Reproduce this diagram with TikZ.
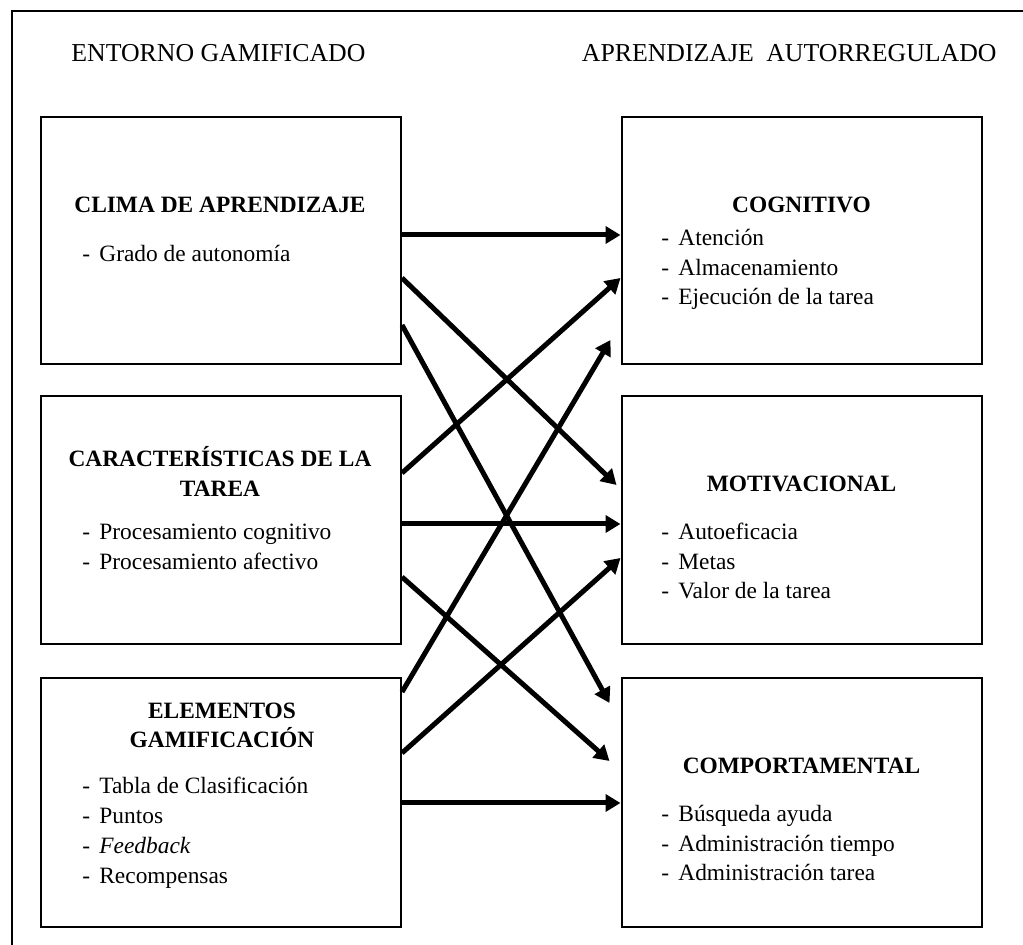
\documentclass[tikz,border=0pt]{standalone}
\usepackage{fontspec}
\setmainfont{Liberation Serif}
\usetikzlibrary{arrows.meta,calc}

\tikzset{
  box/.style={draw, line width=1pt, minimum width=180pt, inner sep=0pt},
  link/.style={line width=2.5pt, -{Triangle[length=7.5pt,width=8.5pt]}},
  head/.style={font=\fontsize{12.9}{15}\selectfont, inner sep=0pt},
  title/.style={font=\fontsize{11.7}{14.75}\selectfont\bfseries, anchor=base, inner sep=0pt},
  item/.style={font=\fontsize{11.7}{14.75}\selectfont, anchor=base west, inner sep=0pt}
}

\newcommand{\guion}{\makebox[8.5pt][l]{-}}

\begin{document}
\begin{tikzpicture}[x=0.5pt, y=-0.5pt]
            \useasboundingbox (0,0) rectangle (1023,945);

            % marco exterior
            \draw[line width=1pt] (12,945) -- (12,11) -- (1023,11);

            \node[head, anchor=base west] (entorno) at (71,62) {ENTORNO GAMIFICADO};
            \node[head, anchor=base east] (autorreg) at (997,62) {APRENDIZAJE\hspace{3pt} AUTORREGULADO};

            % cajas de la izquierda
            \node[box, minimum height=123.5pt] (clima) at (221,240.5) {};
            \node[box, minimum height=124pt] (tarea) at (221,520) {};
            \node[box, minimum height=124.5pt] (elementos) at (221,802.5) {};

            % cajas de la derecha
            \node[box, minimum height=123.5pt] (cognitivo) at (801.5,240.5) {};
            \node[box, minimum height=124pt] (motivacional) at (801.5,520) {};
            \node[box, minimum height=124.5pt] (comportamental) at (801.5,802.5) {};

            % textos de la izquierda
            \node[title] (tclima) at (220,213) {CLIMA DE APRENDIZAJE};
            \node[item] (iclima) at (82,262) {\guion Grado de autonomía};

            \node[title] (ttarea1) at (220,467) {CARACTERÍSTICAS DE LA};
            \node[title] (ttarea2) at (220,497) {TAREA};
            \foreach \txt [count=\i] in {Procesamiento cognitivo, Procesamiento afectivo}
                \node[item] (itarea\i) at (82,{540+29.5*(\i-1)}) {\guion\txt};

            \node[title] (telem1) at (222,719) {ELEMENTOS};
            \node[title] (telem2) at (222,748) {GAMIFICACIÓN};
            \foreach \txt [count=\i] in {Tabla de Clasificación, Puntos, \itshape Feedback, Recompensas}
                \node[item] (ielem\i) at (82,{794+30*(\i-1)}) {\guion\txt};

            % textos de la derecha
            \node[title] (tcog) at (801.5,213) {COGNITIVO};
            \foreach \txt [count=\i] in {Atención, Almacenamiento, Ejecución de la tarea}
                \node[item] (icog\i) at (661,{246+29.5*(\i-1)}) {\guion\txt};

            \node[title] (tmot) at (801.5,492) {MOTIVACIONAL};
            \foreach \txt [count=\i] in {Autoeficacia, Metas, Valor de la tarea}
                \node[item] (imot\i) at (661,{540+29.5*(\i-1)}) {\guion\txt};

            \node[title] (tcomp) at (801.5,774) {COMPORTAMENTAL};
            \foreach \txt [count=\i] in {Búsqueda ayuda, Administración tiempo, Administración tarea}
                \node[item] (icomp\i) at (661,{822+29.5*(\i-1)}) {\guion\txt};

            % flechas
            \draw[link] (clima.east |- 0,235) -- (cognitivo.west |- 0,235);
            \draw[link] (clima.east |- 0,278) -- ($(motivacional.west |- 0,485)+(-4,0)$);
            \draw[link] (clima.east |- 0,325) -- ($(comportamental.west |- 0,703)+(-11,0)$);

            \draw[link] (tarea.east |- 0,473) -- (cognitivo.west |- 0,278);
            \draw[link] (tarea.east |- 0,524) -- (motivacional.west |- 0,524);
            \draw[link] (tarea.east |- 0,577) -- ($(comportamental.west |- 0,761)+(-11,0)$);

            \draw[link] (elementos.east |- 0,692) -- ($(cognitivo.west |- 0,340)+(-10,0)$);
            \draw[link] (elementos.east |- 0,753) -- (motivacional.west |- 0,558);
            \draw[link] (elementos.east |- 0,803) -- (comportamental.west |- 0,803);
\end{tikzpicture}
\end{document}
